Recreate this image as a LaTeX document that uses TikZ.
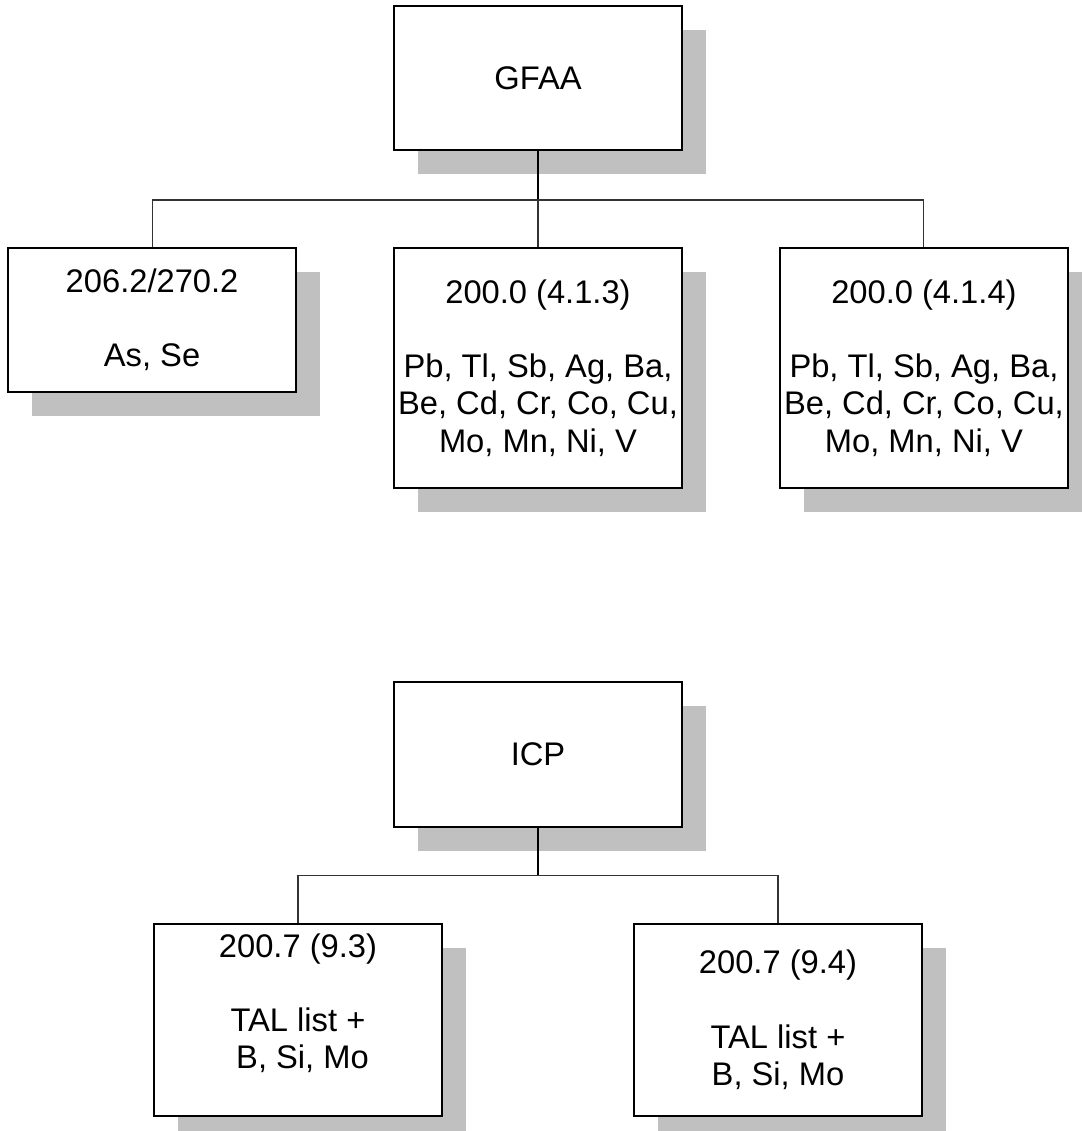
\documentclass[tikz,border=0pt]{standalone}
\usepackage{fontspec}
\setmainfont{Liberation Sans}
\usetikzlibrary{positioning, shadows}

\definecolor{shadowgray}{RGB}{192,192,192}

\begin{document}
\begin{tikzpicture}[
node distance=1.92cm,
box/.style={rectangle, draw, line width=1.1pt, fill=white, align=center, minimum width=5.76cm, inner sep=0.04cm, font=\fontsize{18.6}{21.2}\selectfont, general shadow={fill=shadowgray, shadow xshift=0.48cm, shadow yshift=-0.48cm}},
link/.style={line width=0.6pt, draw=black!80},
stem/.style={line width=1.1pt}
]
\useasboundingbox (0,0) rectangle (21.64,-22.62);

% GFAA methods
\node[box, minimum height=2.88cm] (gfaa) at (10.76,-1.56) {GFAA};
\node[box, minimum height=4.8cm, below=of gfaa] (gfaa_413) {200.0 (4.1.3)\\[21.2pt]Pb, Tl, Sb, Ag, Ba,\\Be, Cd, Cr, Co, Cu,\\Mo, Mn, Ni, V};
\node[box, minimum height=2.88cm, left=of gfaa_413.north west, anchor=north east] (gfaa_asse) {206.2/270.2\\[21.2pt]As, Se};
\node[box, minimum height=4.8cm, right=of gfaa_413] (gfaa_414) {200.0 (4.1.4)\\[21.2pt]Pb, Tl, Sb, Ag, Ba,\\Be, Cd, Cr, Co, Cu,\\Mo, Mn, Ni, V};

\coordinate[below=0.98cm of gfaa.south] (gfaa_fork);
\draw[stem] (gfaa) -- (gfaa_fork);
\draw[link] (gfaa_fork) -- (gfaa_413);
\draw[link] (gfaa_asse) |- (gfaa_fork) -| (gfaa_414);

% ICP methods
\node[box, minimum height=2.9cm, below=3.84cm of gfaa_413] (icp) {ICP};
\node[box, minimum height=3.84cm, below=1.9cm of icp, xshift=-4.8cm] (icp_93) {200.7 (9.3)\\[21.2pt]TAL list +\\\ B, Si, Mo\\\mbox{}};
\node[box, minimum height=3.84cm, below=1.9cm of icp, xshift=4.8cm] (icp_94) {200.7 (9.4)\\[21.2pt]TAL list +\\B, Si, Mo};

\coordinate[below=0.96cm of icp.south] (icp_fork);
\draw[stem] (icp) -- (icp_fork);
\draw[link] (icp_93) |- (icp_fork) -| (icp_94);

\end{tikzpicture}
\end{document}
